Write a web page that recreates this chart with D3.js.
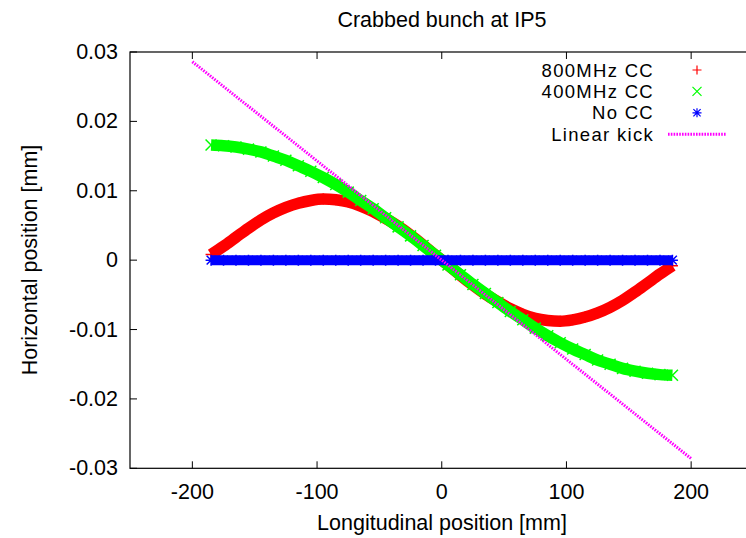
<!DOCTYPE html>
<html>
<head>
<meta charset="utf-8">
<script src="https://cdn.jsdelivr.net/npm/d3@7"></script>
<style>
  body { margin: 0; background: #fff; }
  text { font-family: "Liberation Sans", Arial, Helvetica, sans-serif; font-size: 21.5px; fill: #000; }
  .legend text { font-size: 18.5px; letter-spacing: 1.3px; }
</style>
</head>
<body>
<div id="plot"></div>
<script>
const PLOT_WIDTH = 746;
const PLOT_HEIGHT = 538;

// longitudinal position of the sampled particles [mm]
const zs = [-185, -175, -165, -155, -145, -135, -125, -115, -105, -95,
    -85, -75, -65, -55, -45, -35, -25, -15, -5,
    5, 15, 25, 35, 45, 55, 65, 75, 85, 95,
    105, 115, 125, 135, 145, 155, 165, 175, 185];

// horizontal position [mm]
const cc800 = [0.0008, 0.0020, 0.0033, 0.0046, 0.0058, 0.0068, 0.0076, 0.0082, 0.0086, 0.0088,
    0.0087, 0.0084, 0.0078, 0.0070, 0.0060, 0.0049, 0.0036, 0.0022, 0.0007,
    -0.0007, -0.0022, -0.0036, -0.0049, -0.0060, -0.0070, -0.0078, -0.0084, -0.0087, -0.0088,
    -0.0086, -0.0082, -0.0076, -0.0068, -0.0058, -0.0046, -0.0033, -0.0020, -0.0008];

const cc400 = [0.0166, 0.0165, 0.0163, 0.0160, 0.0156, 0.0150, 0.0144, 0.0136, 0.0128, 0.0119,
    0.0109, 0.0098, 0.0086, 0.0074, 0.0061, 0.0048, 0.0035, 0.0021, 0.0007,
    -0.0007, -0.0021, -0.0035, -0.0048, -0.0061, -0.0074, -0.0086, -0.0098, -0.0109, -0.0119,
    -0.0128, -0.0136, -0.0144, -0.0150, -0.0156, -0.0160, -0.0163, -0.0165, -0.0166];

const noCC = [0, 0, 0, 0, 0, 0, 0, 0, 0, 0,
    0, 0, 0, 0, 0, 0, 0, 0, 0,
    0, 0, 0, 0, 0, 0, 0, 0, 0, 0,
    0, 0, 0, 0, 0, 0, 0, 0, 0];

const kickZ = [-200, 200];
const kickX = [0.0286, -0.0286];

const xTicks = [-200, -100, 0, 100, 200];
const yTicks = [-0.03, -0.02, -0.01, 0, 0.01, 0.02, 0.03];

const series = [
    { name: '800MHz CC', values: cc800, color: '#ff0000', marker: 'plus', band: 11.5 },
    { name: '400MHz CC', values: cc400, color: '#00ff00', marker: 'cross', band: 11.5 },
    { name: 'No CC', values: noCC, color: '#0000ff', marker: 'star', band: 10 }
];

const margin = { left: 130, top: 52, right: 753.5, bottom: 468.3 };

var svg = d3.select('#plot')
    .append('svg')
    .attr('width', PLOT_WIDTH)
    .attr('height', PLOT_HEIGHT);

const x = d3.scaleLinear().domain([-250, 250]).range([margin.left, margin.right]);
const y = d3.scaleLinear().domain([-0.03, 0.03]).range([margin.bottom, margin.top]);

function markerPath(type, s) {
    let plus = `M${-s},0H${s}M0,${-s}V${s}`;
    let cross = `M${-s},${-s}L${s},${s}M${-s},${s}L${s},${-s}`;
    if (type == 'plus') return plus;
    if (type == 'cross') return cross;
    return plus + `M${-s * 0.8},${-s * 0.8}L${s * 0.8},${s * 0.8}M${-s * 0.8},${s * 0.8}L${s * 0.8},${-s * 0.8}`;
}

// gnuplot prints a plain hyphen for negatives
function fmt(d, spec) {
    return d3.format(spec)(d).replace('\u2212', '-');
}

// title and axis labels
svg.append('text')
    .attr('x', 442).attr('y', 20)
    .attr('text-anchor', 'middle').attr('dominant-baseline', 'central')
    .text('Crabbed bunch at IP5');

svg.append('text')
    .attr('x', 442).attr('y', 523)
    .attr('text-anchor', 'middle').attr('dominant-baseline', 'central')
    .text('Longitudinal position [mm]');

svg.append('text')
    .attr('transform', 'translate(30,260) rotate(-90)')
    .attr('text-anchor', 'middle').attr('dominant-baseline', 'central')
    .text('Horizontal position [mm]');

// axes (gnuplot style: inward ticks, mirrored on top)
const axisG = svg.append('g');

axisG.append('rect')
    .attr('x', margin.left).attr('y', margin.top)
    .attr('width', margin.right - margin.left)
    .attr('height', margin.bottom - margin.top)
    .attr('fill', 'none').attr('stroke', '#000').attr('stroke-width', 1.2);

axisG.selectAll('.xt')
    .data(xTicks)
    .enter()
    .append('path')
    .attr('d', d => `M${x(d)},${margin.bottom}v-7M${x(d)},${margin.top}v7`)
    .attr('stroke', '#000').attr('stroke-width', 1);

axisG.selectAll('.yt')
    .data(yTicks)
    .enter()
    .append('path')
    .attr('d', d => `M${margin.left},${y(d)}h7`)
    .attr('stroke', '#000').attr('stroke-width', 1);

axisG.selectAll('.xl')
    .data(xTicks)
    .enter()
    .append('text')
    .attr('x', d => x(d)).attr('y', 492)
    .attr('text-anchor', 'middle').attr('dominant-baseline', 'central')
    .text(d => fmt(d, 'd'));

axisG.selectAll('.yl')
    .data(yTicks)
    .enter()
    .append('text')
    .attr('x', 118).attr('y', d => y(d))
    .attr('text-anchor', 'end').attr('dominant-baseline', 'central')
    .text(d => d == 0 ? '0' : fmt(d, '.2f'));

// the bunches: dense markers form a thick band
const line = d3.line()
    .x(d => x(d.z))
    .y(d => y(d.v))
    .curve(d3.curveMonotoneX);

for (let s of series) {
    let pts = zs.map((z, i) => ({ z: z, v: s.values[i] }));
    let g = svg.append('g');

    g.append('path')
        .datum(pts)
        .attr('d', line)
        .attr('fill', 'none')
        .attr('stroke', s.color)
        .attr('stroke-width', s.band);

    g.selectAll('path.m')
        .data(pts)
        .enter()
        .append('path')
        .attr('class', 'm')
        .attr('transform', d => `translate(${x(d.z)},${y(d.v)})`)
        .attr('d', markerPath(s.marker, 5.5))
        .attr('stroke', s.color)
        .attr('stroke-width', 1.5);
}

// linear kick
svg.append('path')
    .datum(kickZ.map((z, i) => ({ z: z, v: kickX[i] })))
    .attr('d', d3.line().x(d => x(d.z)).y(d => y(d.v)))
    .attr('fill', 'none')
    .attr('stroke', '#ff00ff')
    .attr('stroke-width', 3)
    .attr('stroke-dasharray', '1.6,1.2');

// legend
const legend = svg.append('g').attr('class', 'legend');
const rows = series.concat([{ name: 'Linear kick', color: '#ff00ff', marker: 'line' }]);

rows.forEach((r, i) => {
    let ry = 70 + i * 21.4;
    legend.append('text')
        .attr('x', 654).attr('y', ry)
        .attr('text-anchor', 'end').attr('dominant-baseline', 'central')
        .text(r.name);
    if (r.marker == 'line') {
        legend.append('path')
            .attr('d', `M668,${ry}H726`)
            .attr('stroke', r.color)
            .attr('stroke-width', 3)
            .attr('stroke-dasharray', '1.6,1.2');
    } else {
        legend.append('path')
            .attr('transform', `translate(697,${ry})`)
            .attr('d', markerPath(r.marker, 4.5))
            .attr('fill', 'none')
            .attr('stroke', r.color)
            .attr('stroke-width', 1.2);
    }
});
</script>
</body>
</html>
